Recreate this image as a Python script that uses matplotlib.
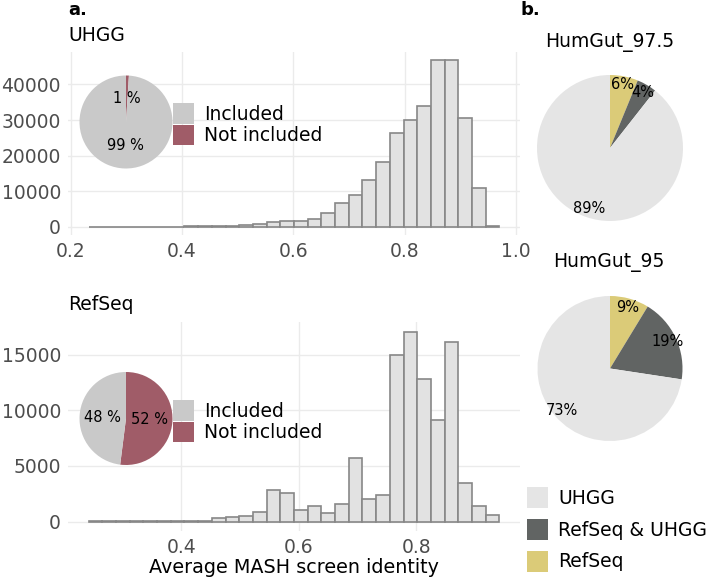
import matplotlib
matplotlib.use("Agg")
import matplotlib.pyplot as plt
from matplotlib.patches import Patch
import numpy as np

# ---------------- data ----------------
uhgg_range = (0.232, 0.970)
uhgg_counts = [5, 5, 10, 15, 20, 30, 50, 80, 100, 150, 250, 400,
               850, 1200, 1500, 1500, 2250, 3850, 6550, 8950,
               13240, 18310, 26480, 30140, 34080, 46760, 46800, 30700, 11000, 300]
refseq_range = (0.242, 0.942)
refseq_counts = [10, 10, 15, 20, 25, 30, 40, 50, 60, 270, 360, 500,
                 840, 2850, 2530, 990, 1350, 750, 1580, 5670,
                 2010, 2420, 15000, 17090, 12840, 9090, 16130, 3420, 1410, 600]
uhgg_xticks = [0.2, 0.4, 0.6, 0.8, 1.0]
uhgg_yticks = [0, 10000, 20000, 30000, 40000]
refseq_xticks = [0.4, 0.6, 0.8]
refseq_yticks = [0, 5000, 10000, 15000]

incl_labels = ["Not included", "Included"]
uhgg_incl = [1, 99]
refseq_incl = [52, 48]

humgut_labels = ["RefSeq", "RefSeq & UHGG", "UHGG"]
humgut975 = [6.2, 4.4, 89.4]
humgut95 = [8.7, 18.7, 72.6]

# ---------------- style ----------------
W, H = 709, 580
fig = plt.figure(figsize=(W / 100, H / 100), dpi=100)
plt.rcParams['font.family'] = ['DejaVu Sans']

hist_fill = "#E2E2E2"
hist_edge = "#878787"
grid_c = "#EBEBEB"
tick_c = "#4D4D4D"
incl_c = {"Included": "#C9C9C9", "Not included": "#A05C68"}
hum_c = {"UHGG": "#E5E5E5", "RefSeq & UHGG": "#616463", "RefSeq": "#DBCB78"}


def rect(x0, y0, x1, y1):
    return [x0 / W, 1 - y1 / H, (x1 - x0) / W, (y1 - y0) / H]


def hist(ax, rng, counts, xticks, yticks):
    edges = np.linspace(rng[0], rng[1], len(counts) + 1)
    ax.bar(edges[:-1], counts, width=np.diff(edges), align='edge',
           color=hist_fill, edgecolor=hist_edge, linewidth=1.2, zorder=3)
    span = rng[1] - rng[0]
    ax.set_xlim(rng[0] - 0.05 * span, rng[1] + 0.05 * span)
    mx = max(counts)
    ax.set_ylim(-0.05 * mx, 1.05 * mx)
    ax.set_xticks(xticks)
    ax.set_xticklabels([f"{t:.1f}" for t in xticks])
    ax.set_yticks(yticks)
    ax.set_yticklabels([str(t) for t in yticks])
    ax.grid(True, color=grid_c, linewidth=1.0, zorder=0)
    ax.tick_params(length=0, labelsize=13.5, labelcolor=tick_c, pad=5)
    for s in ax.spines.values():
        s.set_visible(False)


ax1 = fig.add_axes(rect(68, 52, 520, 235))
hist(ax1, uhgg_range, uhgg_counts, uhgg_xticks, uhgg_yticks)
ax2 = fig.add_axes(rect(68, 322, 520, 531))
hist(ax2, refseq_range, refseq_counts, refseq_xticks, refseq_yticks)
ax2.set_xlabel("Average MASH screen identity", fontsize=13.8, labelpad=1)


def small_pie(cx, cy, r, vals, fmt, labeldist, fs, colors):
    ax = fig.add_axes(rect(cx - r, cy - r, cx + r, cy + r))
    tot = sum(vals)
    ax.pie(vals, colors=colors, startangle=90, counterclock=False,
           labels=[fmt(v / tot * 100) for v in vals], labeldistance=labeldist,
           textprops=dict(fontsize=fs, ha='center', va='center'),
           wedgeprops=dict(linewidth=0))
    for t in ax.texts:
        t.set_horizontalalignment('center')
    ax.set_xlim(-1, 1)
    ax.set_ylim(-1, 1)
    ax.axis('off')
    return ax


icols = [incl_c[n] for n in incl_labels]
small_pie(126, 122, 46.5, uhgg_incl, lambda p: f"{p:.0f} %", 0.5, 10.5, icols)
small_pie(126, 418.5, 46.5, refseq_incl, lambda p: f"{p:.0f} %", 0.5, 10.5, icols)

hcols = [hum_c[n] for n in humgut_labels]
small_pie(610, 148, 73, humgut975, lambda p: f"{p:.0f}%", 0.88, 10.5, hcols)
small_pie(610, 368.5, 72.5, humgut95, lambda p: f"{p:.0f}%", 0.88, 10.5, hcols)


def legend(x, y, names, spacing):
    handles = [Patch(facecolor=(incl_c | hum_c)[n], edgecolor='none') for n in names]
    fig.legend(handles, names, loc='upper left', bbox_to_anchor=(x / W, 1 - y / H),
               frameon=False, fontsize=13.5, handlelength=1.1, handleheight=1.32,
               handletextpad=0.55, labelspacing=spacing, borderpad=0, borderaxespad=0)


legend(173, 103, ["Included", "Not included"], 0.05)
legend(173, 400, ["Included", "Not included"], 0.05)
legend(527, 487, ["UHGG", "RefSeq & UHGG", "RefSeq"], 0.6)

# titles
fig.text(68 / W, 1 - 15 / H, "a.", fontsize=13, fontweight='bold', va='baseline')
fig.text(520 / W, 1 - 15 / H, "b.", fontsize=13, fontweight='bold', va='baseline')
fig.text(68 / W, 1 - 41 / H, "UHGG", fontsize=13.5, va='baseline')
fig.text(68 / W, 1 - 310 / H, "RefSeq", fontsize=13.5, va='baseline')
fig.text(610 / W, 1 - 47 / H, "HumGut_97.5", fontsize=13.5, va='baseline', ha='center')
fig.text(609 / W, 1 - 267 / H, "HumGut_95", fontsize=13.5, va='baseline', ha='center')

fig.savefig("out.png", dpi=100)
